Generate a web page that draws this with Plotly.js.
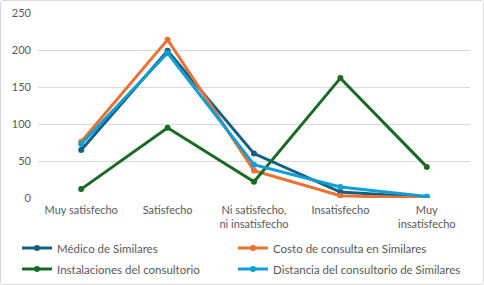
<!DOCTYPE html>
<html><head><meta charset="utf-8">
<script src="https://cdn.plot.ly/plotly-3.0.1.min.js"></script>
<style>
html,body{margin:0;padding:0;background:#fff;}
#wrap{width:482px;height:283px;border:1px solid #d9d9d9;border-radius:3px;overflow:hidden;}
#chart{width:482px;height:283px;}
</style></head>
<body><div id="wrap"><div id="chart"></div></div>
<script>
const categories = ["Muy satisfecho", "Satisfecho", "Ni satisfecho,<br>ni insatisfecho", "Insatisfecho", "Muy<br>insatisfecho"];
const seriesNames = ["Médico de Similares", "Costo de consulta en Similares", "Instalaciones del consultorio", "Distancia del consultorio de Similares"];
const medico = [65, 199, 60, 8, 1];
const costo = [76, 214, 37, 3, 0];
const instalaciones = [12, 95, 22, 162, 42];
const distancia = [73, 196, 45, 15, 2];
const yTicks = [0, 50, 100, 150, 200, 250];

const colors = ["#156082", "#E97132", "#196B24", "#0F9ED5"];
const allSeries = [medico, costo, instalaciones, distancia];
const legendIds = ["legend", "legend2", "legend3", "legend4"];

const traces = allSeries.map((vals, i) => ({
  x: categories, y: vals, name: seriesNames[i], type: "scatter", mode: "lines+markers",
  line: {color: colors[i], width: 3}, marker: {color: colors[i], size: 6},
  legend: legendIds[i]
}));

const font = {family: "Lato, 'Liberation Sans', sans-serif", size: 11, color: "#595959"};
const legFont = {family: "Lato, 'Liberation Sans', sans-serif", size: 11.5, color: "#595959"};
const W = 482, H = 283;
const M = {l: 37, r: 13, t: 12, b: 86, autoexpand: false};
const PW = W - M.l - M.r, PH = H - M.t - M.b;
const colX = [16, 232];
const rowY = [247, 268];
function leg(col, row) {
  return {orientation: "v", xref: "paper", yref: "paper",
          x: (colX[col] - M.l) / PW, xanchor: "left",
          y: (H - M.b - rowY[row]) / PH, yanchor: "middle",
          font: legFont, itemwidth: 30, bgcolor: "rgba(0,0,0,0)", borderwidth: 0};
}
Plotly.newPlot("chart", traces, {
  width: W, height: H,
  margin: M,
  paper_bgcolor: "#fff", plot_bgcolor: "#fff",
  font: font,
  showlegend: true,
  legend: leg(0, 0), legend2: leg(1, 0), legend3: leg(0, 1), legend4: leg(1, 1),
  xaxis: {type: "category", showgrid: false, zeroline: false, showline: false, ticks: "", tickfont: font, automargin: false, range: [-0.5, 4.5], ticklabelstandoff: 4},
  yaxis: {range: [0, 250], tickvals: yTicks, showgrid: true, gridcolor: "#d9d9d9", gridwidth: 1, zeroline: false, showline: false, ticks: "", tickfont: font, automargin: false, ticklabelstandoff: 6}
}, {displayModeBar: false, staticPlot: true});
</script></body></html>
